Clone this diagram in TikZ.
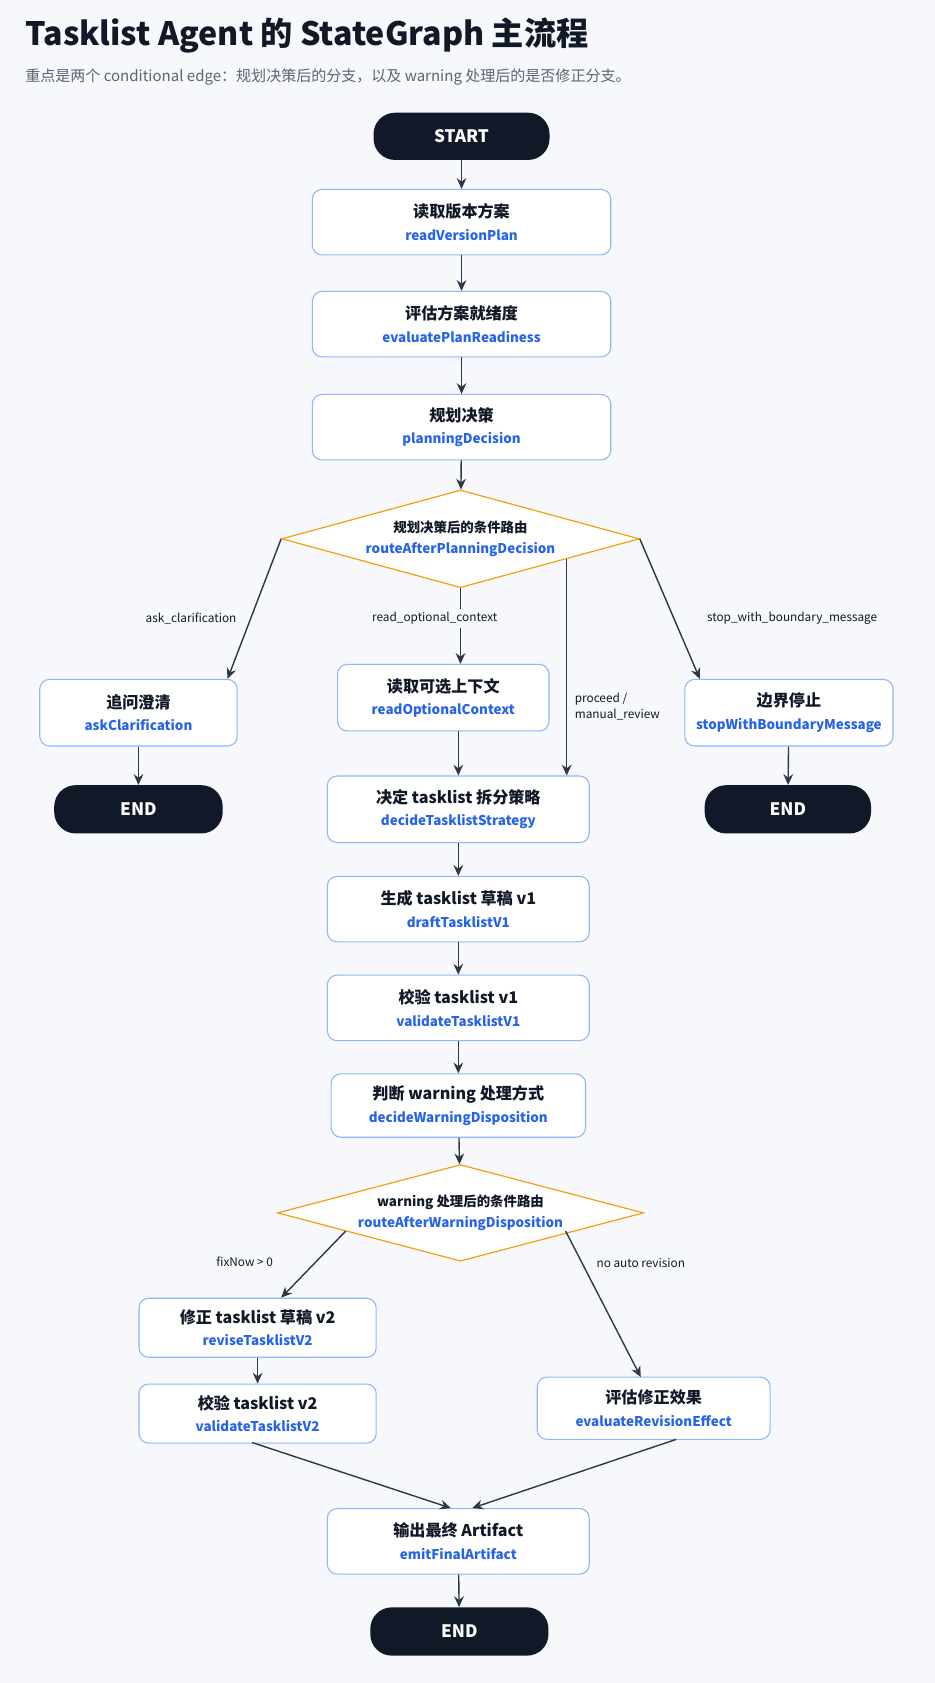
\documentclass[tikz,border=0pt]{standalone}
\usepackage{fontspec}
\setmainfont{Noto Sans CJK SC}
\usetikzlibrary{arrows.meta,shapes.geometric}
\definecolor{bg}{HTML}{F6F8FB}
\definecolor{bl}{HTML}{8DB8F5}
\definecolor{bt}{HTML}{2563EB}
\definecolor{dk}{HTML}{111827}
\definecolor{ar}{HTML}{2D3748}
\definecolor{og}{HTML}{F59E0B}
\definecolor{gy}{HTML}{5B6474}
\tikzset{
 box/.style={draw=bl,line width=1pt,fill=white,rounded corners=9pt,align=center,font=\fontsize{15}{21}\selectfont\bfseries,text=dk},
 pill/.style={fill=dk,rounded corners=20pt,text=white,font=\fontsize{16}{18}\selectfont\bfseries},
 dia/.style={draw=og,line width=1.1pt,fill=white,diamond,aspect=3.7,inner sep=0pt,align=center,font=\fontsize{12.5}{20}\selectfont\bfseries,text=dk},
 arr/.style={draw=ar,line width=1.3pt,-{Stealth[length=10pt,width=9pt]}},
 lab/.style={font=\fontsize{11}{15}\selectfont,text=dk},
}
\newcommand{\sub}[1]{{\fontsize{12.5}{16}\selectfont\color{bt}#1}}
\begin{document}
\begin{tikzpicture}[x=1pt,y=-1pt]
\fill[bg] (0,0) rectangle (871,1568);
\useasboundingbox (0,0) rectangle (871,1568);
\node[anchor=west,font=\fontsize{30}{34}\selectfont\bfseries,text=dk] (title) at (20,33) {Tasklist Agent 的 StateGraph 主流程};
\node[anchor=west,font=\fontsize{14}{18}\selectfont,text=gy] (subt) at (20,72) {重点是两个 conditional edge：规划决策后的分支，以及 warning 处理后的是否修正分支。};
\node[pill,minimum width=164pt,minimum height=44pt] (start) at (430,127) {START};
\node[box,minimum width=278pt,minimum height=61pt] (rvp) at (430,207) {读取版本方案\\\sub{readVersionPlan}};
\node[box,minimum width=278pt,minimum height=61pt] (epr) at (430,302) {评估方案就绪度\\\sub{evaluatePlanReadiness}};
\node[box,minimum width=278pt,minimum height=61pt] (pd) at (430,398) {规划决策\\\sub{planningDecision}};
\node[dia,minimum width=333pt,minimum height=91pt] (d1) at (429,502) {规划决策后的条件路由\\\sub{routeAfterPlanningDecision}};
\node[box,minimum width=184pt,minimum height=62pt] (ac) at (129,664) {追问澄清\\\sub{askClarification}};
\node[pill,minimum width=157pt,minimum height=45pt] (end1) at (129,754) {END};
\node[box,minimum width=197pt,minimum height=62pt] (roc) at (413,650) {读取可选上下文\\\sub{readOptionalContext}};
\node[box,minimum width=194pt,minimum height=62pt] (swb) at (735,664) {边界停止\\\sub{stopWithBoundaryMessage}};
\node[pill,minimum width=155pt,minimum height=45pt] (end2) at (734,754) {END};
\node[box,minimum width=244pt,minimum height=62pt] (dts) at (427,754) {决定 tasklist 拆分策略\\\sub{decideTasklistStrategy}};
\node[box,minimum width=244pt,minimum height=61pt] (dt1) at (427,847) {生成 tasklist 草稿 v1\\\sub{draftTasklistV1}};
\node[box,minimum width=244pt,minimum height=61pt] (vt1) at (427,939) {校验 tasklist v1\\\sub{validateTasklistV1}};
\node[box,minimum width=237pt,minimum height=59pt] (dwd) at (427,1030) {判断 warning 处理方式\\\sub{decideWarningDisposition}};
\node[dia,minimum width=341pt,minimum height=90pt] (d2) at (429,1130) {warning 处理后的条件路由\\\sub{routeAfterWarningDisposition}};
\node[box,minimum width=221pt,minimum height=55pt] (rt2) at (240,1237) {修正 tasklist 草稿 v2\\\sub{reviseTasklistV2}};
\node[box,minimum width=221pt,minimum height=55pt] (vt2) at (240,1317) {校验 tasklist v2\\\sub{validateTasklistV2}};
\node[box,minimum width=217pt,minimum height=58pt] (ere) at (609,1312) {评估修正效果\\\sub{evaluateRevisionEffect}};
\node[box,minimum width=244pt,minimum height=61pt] (efa) at (427,1436) {输出最终 Artifact\\\sub{emitFinalArtifact}};
\node[pill,minimum width=166pt,minimum height=45pt] (end3) at (428,1520) {END};
\draw[arr] (start) -- (rvp);
\draw[arr] (rvp) -- (epr);
\draw[arr] (epr) -- (pd);
\draw[arr] (pd) -- (d1);
\draw[arr] (d1.west) -- (ac.north east -| 212,633);
\draw[arr] (d1.east) -- (swb.north west -| 652,633);
\draw[arr] (d1.south) -- (roc.north -| d1.south);
\node[lab,fill=bg] (l2) at (405,576) {read\_optional\_context};
\node[lab] (l1) at (178,576) {ask\_clarification};
\node[lab] (l3) at (738,576) {stop\_with\_boundary\_message};
\coordinate (pm) at (528,521);
\draw[arr] (pm) -- (dts.north -| pm);
\node[lab,anchor=west,align=left] (l4) at (532,658) {proceed /\\manual\_review};
\draw[arr] (ac) -- (end1);
\draw[arr] (swb) -- (end2);
\draw[arr] (roc.south -| dts.north) -- (dts.north);
\draw[arr] (dts) -- (dt1);
\draw[arr] (dt1) -- (vt1);
\draw[arr] (vt1) -- (dwd);
\draw[arr] (dwd) -- (d2);
\coordinate (q1) at (322,1147);
\coordinate (q2) at (527,1147);
\draw[arr] (q1) -- (262,1209);
\draw[arr] (q2) -- (597,1283);
\node[lab] (l5) at (228,1176) {fixNow > 0};
\node[lab] (l6) at (597,1177) {no auto revision};
\draw[arr] (rt2) -- (vt2);
\draw[arr] (235,1344) -- (420,1405);
\draw[arr] (630,1341) -- (440,1405);
\draw[arr] (efa) -- (end3);
\end{tikzpicture}
\end{document}
